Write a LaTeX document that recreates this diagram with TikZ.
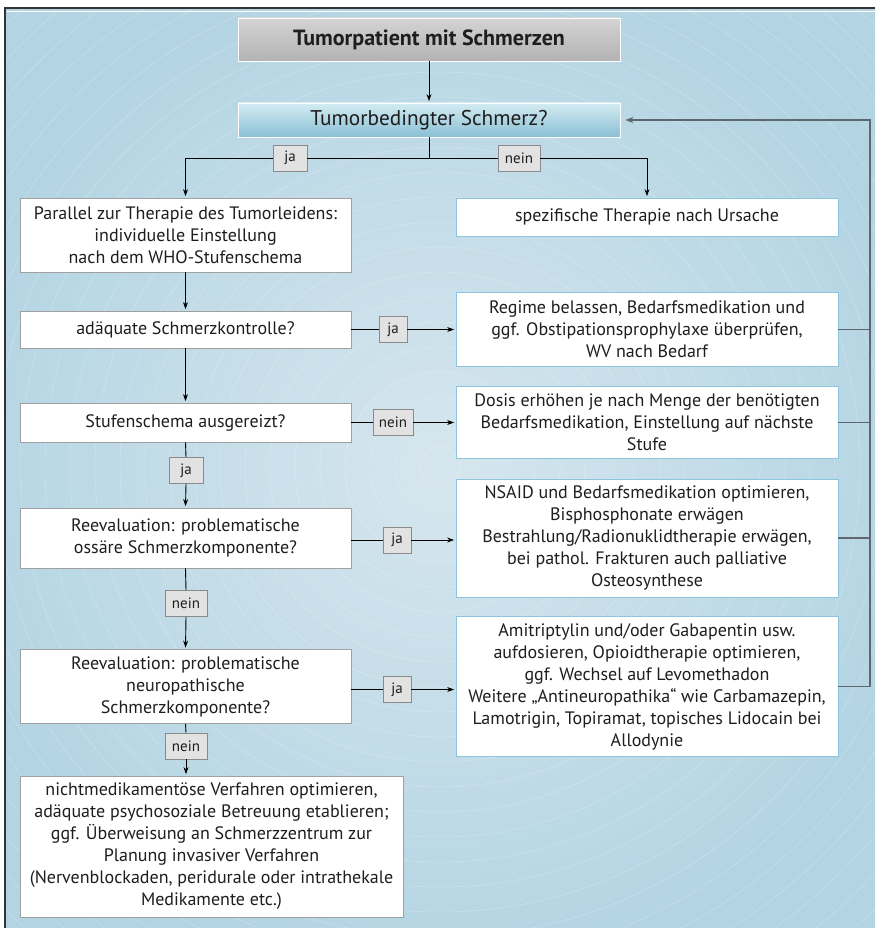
\documentclass[tikz,border=0pt]{standalone}
\usepackage{fontspec}
\setmainfont{PT Sans}
\usetikzlibrary{arrows.meta}
\definecolor{txt}{HTML}{1E1E1E}
\definecolor{bgin}{HTML}{D6E6EE}
\definecolor{bgout}{HTML}{B3D4E3}
\definecolor{framec}{HTML}{333333}
\definecolor{graybd}{HTML}{A0A0A0}
\definecolor{bluebd}{HTML}{8CC6DE}
\definecolor{labfill}{HTML}{E2E2E2}
\definecolor{labbd}{HTML}{8A8A8A}
\definecolor{fbc}{HTML}{5E6670}
\newcommand\fsbody{\fontsize{18}{22}\selectfont}
\newcommand\fsbig{\fontsize{21.3}{26}\selectfont}
\newcommand\fstitle{\fontsize{22}{26}\selectfont\bfseries}
\newcommand\fslab{\fontsize{15}{17}\selectfont}
\tikzset{
  lbox/.style={draw=graybd, fill=white, line width=0.8pt, minimum width=331pt,
    align=center, text=txt, font=\fsbody, inner sep=0pt},
  rbox/.style={draw=bluebd, fill=white, line width=0.8pt, minimum width=382pt,
    align=center, text=txt, font=\fsbody, inner sep=0pt},
  lab/.style={draw=labbd, fill=labfill, line width=0.6pt, font=\fslab, text=txt,
    inner sep=0pt, minimum height=26pt},
  conn/.style={draw=black, line width=0.9pt},
  arr/.style={conn, -{Stealth[length=7pt,width=5pt]}, shorten >=1.5pt},
  fbl/.style={draw=fbc, line width=1.6pt}
}
\begin{document}
\begin{tikzpicture}[x=1pt,y=-1pt]
\useasboundingbox (0,0) rectangle (875,928);
\fill[white] (0,0) rectangle (875,928);
\begin{scope}
  \clip (5,8) rectangle (875,928);
  \shade[inner color=bgin, outer color=bgout] (-60,-40) rectangle (940,975);
  \foreach \r in {20,45,...,720}
    \draw[white, opacity=0.28, line width=0.5pt] (440,467) circle[radius=\r pt];
\end{scope}
\draw[white, line width=0.8pt] (7,11) -- (875,11);
\draw[framec, line width=1.6pt] (5,928) -- (5,8) -- (875,8);

% nodes
\node[draw=white, line width=0.8pt, minimum width=382pt, minimum height=43pt,
  top color=black!17, middle color=black!6, bottom color=black!30,
  text=txt, font=\fstitle, inner sep=0pt] (title) at (429,39.5) {Tumorpatient mit Schmerzen};
\node[draw=white, line width=0.8pt, minimum width=382pt, minimum height=34pt,
  top color={rgb,255:red,212;green,235;blue,242}, middle color={rgb,255:red,182;green,218;blue,230},
  bottom color={rgb,255:red,138;green,192;blue,212},
  text=txt, font=\fsbig, inner sep=0pt] (q1) at (429,120) {Tumorbedingter Schmerz?};

\node[lbox, minimum height=74pt] (A) at (185.5,235)
  {Parallel zur Therapie des Tumorleidens:\\individuelle Einstellung\\nach dem WHO-Stufenschema};
\node[rbox, minimum height=38pt] (B) at (647,217) {spezifische Therapie nach Ursache};

\node[lbox, minimum height=37pt] (C) at (185.5,329.5) {adäquate Schmerzkontrolle?};
\node[rbox, minimum height=74pt] (R1) at (647,329.5)
  {Regime belassen, Bedarfsmedikation und\\ggf. Obstipationsprophylaxe überprüfen,\\WV nach Bedarf};

\node[lbox, minimum height=39pt] (D) at (185.5,422.5) {Stufenschema ausgereizt?};
\node[rbox, minimum height=72pt] (R2) at (647,422.5)
  {Dosis erhöhen je nach Menge der benötigten\\Bedarfsmedikation, Einstellung auf nächste\\Stufe};

\node[lbox, minimum height=60pt] (E) at (185.5,538)
  {Reevaluation: problematische\\ossäre Schmerzkomponente?};
\node[rbox, minimum height=118pt] (R3) at (647,538)
  {NSAID und Bedarfsmedikation optimieren,\\Bisphosphonate erwägen\\Bestrahlung/Radionuklidtherapie erwägen,\\bei pathol. Frakturen auch palliative\\Osteosynthese};

\node[lbox, minimum height=74pt] (F) at (185.5,686.5)
  {Reevaluation: problematische\\neuropathische\\Schmerzkomponente?};
\node[rbox, minimum height=140pt] (R4) at (647,686.5)
  {Amitriptylin und/oder Gabapentin usw.\\aufdosieren, Opioidtherapie optimieren,\\ggf. Wechsel auf Levomethadon\\Weitere „Antineuropathika“ wie Carbamazepin,\\Lamotrigin, Topiramat, topisches Lidocain bei\\Allodynie};

\node[lbox, minimum width=383pt, minimum height=141pt] (G) at (211.5,846.5)
  {nichtmedikamentöse Verfahren optimieren,\\adäquate psychosoziale Betreuung etablieren;\\ggf. Überweisung an Schmerzzentrum zur\\Planung invasiver Verfahren\\(Nervenblockaden, peridurale oder intrathekale\\Medikamente etc.)};

% labels
\node[lab, minimum width=34pt] (jaT) at (290,158) {ja};
\node[lab, minimum width=42pt] (neinT) at (519,158) {nein};
\node[lab, minimum width=28pt] (jaC) at (393,329.5) {ja};
\node[lab, minimum width=40pt] (neinD) at (393,422.5) {nein};
\node[lab, minimum width=34pt] (jaD) at (186,470.5) {ja};
\node[lab, minimum width=28pt] (jaE) at (397,540) {ja};
\node[lab, minimum width=42pt] (neinE) at (186,603.5) {nein};
\node[lab, minimum width=28pt] (jaF) at (397,689.5) {ja};
\node[lab, minimum width=42pt] (neinF) at (186,746) {nein};

% connectors
\draw[arr] (title.south) -- (q1.north);
\coordinate (br) at (429,158);
\draw[conn] (q1.south) -- (br);
\draw[conn] (br) -- (jaT.east);
\draw[conn] (br) -- (neinT.west);
\draw[arr] (jaT.west) -| (A.north);
\draw[arr] (neinT.east) -| (B.north);

\draw[arr] (A.south) -- (C.north);
\draw[conn] (C.east) -- (jaC.west);
\draw[arr] (jaC.east) -- (R1.west);

\draw[arr] (C.south) -- (D.north);
\draw[conn] (D.east) -- (neinD.west);
\draw[arr] (neinD.east) -- (R2.west);

\draw[conn] (D.south) -- (jaD.north);
\draw[arr] (jaD.south) -- (E.north);
\draw[conn] (E.east |- jaE.west) -- (jaE.west);
\draw[arr] (jaE.east) -- (R3.west |- jaE.east);

\draw[conn] (E.south) -- (neinE.north);
\draw[arr] (neinE.south) -- (F.north);
\draw[conn] (F.east |- jaF.west) -- (jaF.west);
\draw[arr] (jaF.east) -- (R4.west |- jaF.east);

\draw[conn] (F.south) -- (neinF.north);
\draw[arr] (neinF.south) -- (G.north -| neinF.south);

% feedback
\coordinate (fb) at (870,686.5);
\draw[fbl] (R1.east) -- (R1.east -| fb);
\draw[fbl] (R2.east) -- (R2.east -| fb);
\draw[fbl] (R3.east) -- (R3.east -| fb);
\draw[fbl, -{Stealth[length=8pt,width=6pt]}, shorten >=5pt] (R4.east) -- (fb) |- (q1.east);
\end{tikzpicture}
\end{document}
